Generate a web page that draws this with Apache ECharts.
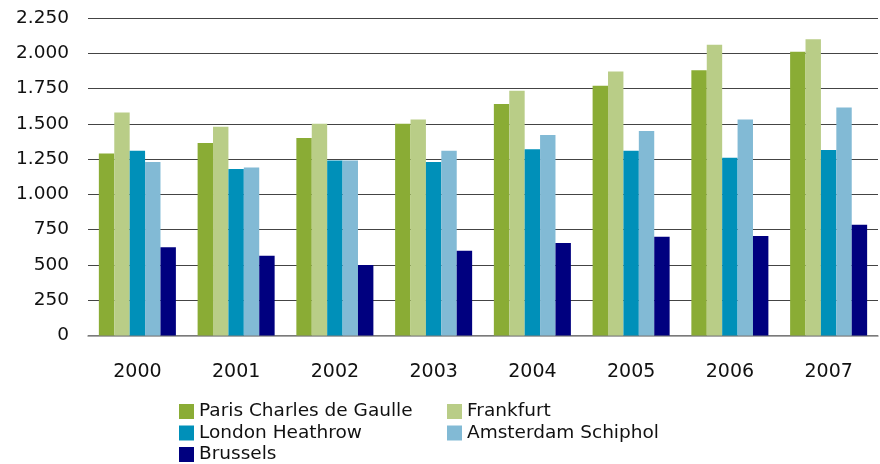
<!DOCTYPE html>
<html><head><meta charset="utf-8">
<script src="https://cdn.jsdelivr.net/npm/echarts@6/dist/echarts.min.js"></script>
<style>html,body{margin:0;padding:0;background:#fff}#c{width:880px;height:464px}</style>
</head><body><div id="c"></div>
<script>
const years = ['2000','2001','2002','2003','2004','2005','2006','2007'];
const seriesNames = ['Paris Charles de Gaulle','Frankfurt','London Heathrow','Amsterdam Schiphol','Brussels'];
const paris = [1290,1365,1400,1500,1640,1770,1880,2010];
const frankfurt = [1580,1480,1500,1530,1735,1870,2060,2100];
const london = [1310,1180,1240,1230,1320,1310,1260,1315];
const amsterdam = [1230,1190,1240,1310,1420,1450,1530,1615];
const brussels = [625,565,500,600,655,700,705,785];
const colors = ['#8aac35','#b9cd87','#0090b9','#82bad5','#00007f'];
const allData = [paris,frankfurt,london,amsterdam,brussels];
const font = 'DejaVu Sans';
const chart = echarts.init(document.getElementById('c'));
const legendText = {fontFamily:font,fontSize:18.5,color:'#111',lineHeight:15};
const legendPos = [[179,402],[447,402],[179,423.5],[447,423.5],[179,445]];
chart.setOption({
  animation:false,
  textStyle:{fontFamily:font},
  grid:{left:88,right:2,top:18,bottom:128.5},
  legend:seriesNames.map((n,i)=>({left:legendPos[i][0],top:legendPos[i][1],itemWidth:15,itemHeight:15,
    icon:'rect',data:[n],textStyle:legendText,padding:0})),
  xAxis:{type:'category',data:years,
    axisLine:{lineStyle:{color:'#8c8c8c',width:1.5}},axisTick:{show:false},
    axisLabel:{fontFamily:font,fontSize:19,color:'#111',margin:27}},
  yAxis:{type:'value',min:0,max:2250,interval:250,
    axisLine:{show:false},axisTick:{show:false},
    splitLine:{lineStyle:{color:'#444',width:1}},
    axisLabel:{fontFamily:font,fontSize:18.5,color:'#111',margin:19,
      formatter:v=>v>=1000?Math.floor(v/1000)+'.'+String(v%1000).padStart(3,'0'):String(v)}},
  series:seriesNames.map((n,i)=>({name:n,type:'bar',data:allData[i],
    itemStyle:{color:colors[i]},barGap:'0%',barCategoryGap:'22%'}))
});
</script></body></html>
